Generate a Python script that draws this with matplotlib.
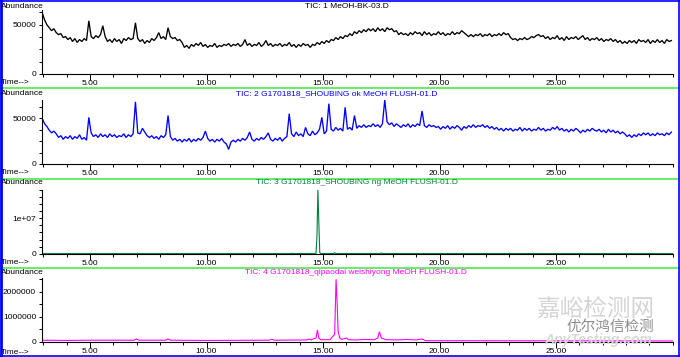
import numpy as np
import matplotlib
matplotlib.use("Agg")
import matplotlib.pyplot as plt
from matplotlib.ticker import MultipleLocator, FuncFormatter
from matplotlib.lines import Line2D

plt.rcParams['font.family'] = ['Liberation Sans', 'DejaVu Sans']

# ---------------- data ----------------
t_start = 2.95
t_step = 0.1

# TIC 1 (abundance, thousands)
tic1_k = [62, 55, 50, 47, 44, 46, 42, 40, 41, 37, 38, 35, 37, 33, 36, 32, 35, 33, 36, 34,
          54, 38, 36, 39, 37, 40, 49, 38, 33, 35, 32, 36, 33, 35, 31, 36, 34, 37, 35, 36,
          52, 36, 33, 35, 31, 34, 32, 36, 34, 37, 42, 36, 38, 35, 47, 38, 36, 37, 34, 35,
          32, 27, 29, 26, 30, 28, 31, 29, 32, 28, 30, 27, 29, 28, 31, 27, 29, 28, 30, 29,
          31, 28, 30, 29, 31, 28, 30, 35, 29, 31, 28, 30, 29, 32, 28, 30, 34, 29, 31, 28,
          30, 29, 31, 28, 30, 29, 32, 28, 30, 27, 30, 28, 31, 29, 30, 27, 30, 29, 32, 30,
          33, 31, 34, 32, 35, 34, 37, 35, 38, 36, 39, 38, 41, 39, 43, 41, 44, 42, 45, 43,
          46, 44, 46, 43, 47, 44, 46, 43, 47, 45, 46, 43, 44, 40, 42, 40, 41, 39, 42, 40,
          43, 41, 42, 39, 43, 40, 42, 39, 41, 40, 43, 40, 42, 39, 41, 40, 43, 40, 42, 41,
          44, 42, 40, 38, 40, 38, 40, 39, 41, 38, 40, 39, 41, 38, 40, 39, 41, 39, 42, 40,
          41, 37, 35, 36, 34, 36, 35, 37, 35, 36, 38, 37, 39, 40, 38, 39, 36, 38, 35, 37,
          36, 39, 35, 37, 34, 38, 35, 37, 36, 38, 35, 37, 39, 35, 37, 34, 36, 35, 37, 34,
          36, 33, 35, 34, 36, 33, 35, 32, 34, 31, 33, 31, 34, 32, 34, 31, 35, 33, 34, 32,
          35, 31, 34, 32, 35, 32, 34, 31, 35, 33, 34]

# TIC 2 (abundance, thousands)
tic2_k = [50, 44, 41, 37, 34, 36, 33, 29, 31, 27, 30, 28, 31, 27, 30, 28, 32, 27, 29, 26,
          51, 34, 30, 32, 29, 33, 30, 32, 29, 33, 30, 32, 29, 31, 30, 33, 29, 32, 30, 33,
          68, 34, 33, 39, 35, 31, 29, 31, 28, 30, 27, 31, 29, 32, 53, 30, 26, 28, 25, 27,
          24, 27, 25, 28, 24, 27, 25, 28, 26, 29, 36, 28, 25, 27, 24, 27, 25, 28, 24, 22,
          16, 24, 26, 24, 27, 25, 28, 26, 29, 35, 27, 25, 28, 26, 29, 27, 30, 34, 27, 25,
          28, 26, 29, 25, 28, 30, 55, 33, 30, 35, 31, 33, 30, 40, 33, 31, 36, 32, 34, 38,
          51, 33, 36, 66, 38, 36, 40, 37, 39, 36, 62, 38, 40, 37, 53, 39, 42, 40, 43, 40,
          42, 41, 44, 41, 43, 40, 44, 70, 46, 43, 45, 41, 44, 42, 40, 43, 41, 44, 40, 43,
          41, 44, 42, 58, 42, 40, 43, 41, 42, 40, 41, 38, 41, 39, 42, 38, 41, 39, 42, 40,
          37, 41, 39, 42, 40, 43, 40, 42, 41, 43, 40, 42, 39, 41, 38, 40, 37, 39, 36, 39,
          37, 39, 36, 38, 37, 40, 36, 39, 37, 39, 36, 38, 37, 40, 37, 39, 36, 38, 37, 40,
          38, 41, 37, 39, 36, 38, 35, 38, 36, 39, 37, 34, 37, 35, 38, 36, 39, 37, 36, 38,
          35, 37, 34, 38, 35, 37, 34, 36, 33, 35, 33, 30, 32, 29, 32, 30, 33, 31, 34, 32,
          34, 31, 33, 31, 34, 32, 33, 31, 34, 32, 35]

# TIC 3 (key points: time, abundance)
tic3_time = [2.95, 7.0, 7.05, 7.1, 13.6, 13.65, 13.7, 14.70, 14.74, 14.78, 14.82, 14.86, 14.9,
             15.45, 15.5, 15.55, 17.45, 17.5, 17.55, 30.0]
tic3_vals = [3e4, 3e4, 1.2e5, 3e4, 3e4, 1.5e5, 3e4, 5e4, 4.8e6, 1.8e7, 9.0e6, 3e5, 5e4,
             5e4, 3e5, 5e4, 5e4, 2e5, 5e4, 3e4]

# TIC 4 (key points: time, abundance)
tic4_time = [2.95, 4.0, 5.0, 6.9, 7.0, 7.1, 8.25, 8.35, 8.45, 10.0, 12.7, 12.8, 12.9,
             14.3, 14.4, 14.5, 14.6, 14.7, 14.76, 14.82, 14.9, 15.3, 15.5, 15.56, 15.6,
             15.65, 15.72, 15.8, 16.0, 16.1, 16.4, 16.8, 17.2, 17.35, 17.42, 17.5, 17.7,
             18.2, 18.6, 19.0, 19.25, 19.4, 30.0]
tic4_vals = [6e4, 5e4, 6e4, 6e4, 1.1e5, 6e4, 6e4, 1.1e5, 6e4, 5e4, 6e4, 1.0e5, 6e4,
             7e4, 1.1e5, 7e4, 1.2e5, 1.5e5, 4.7e5, 1.5e5, 8e4, 8e4, 3e5, 2.5e6, 1.7e6,
             4e5, 1.5e5, 9e4, 1.5e5, 8e4, 7e4, 9e4, 8e4, 1.5e5, 4e5, 1.5e5, 8e4,
             7e4, 9e4, 7e4, 1.1e5, 4e4, 3e4]

titles = ["TIC: 1 MeOH-BK-03.D",
          "TIC: 2 G1701818_SHOUBING ok MeOH FLUSH-01.D",
          "TIC: 3 G1701818_SHOUBING ng MeOH FLUSH-01.D",
          "TIC: 4 G1701818_qipaodai weishiyong MeOH FLUSH-01.D"]
colors = ["#000000", "#0000ff", "#008040", "#ff00ff"]
x_tick_labels = ["5.00", "10.00", "15.00", "20.00", "25.00"]

# ---------------- layout ----------------
W, H = 680, 357
fig = plt.figure(figsize=(W / 100, H / 100), dpi=100)
fig.patch.set_facecolor("white")

def fx(x):
    return x / W

def fy(y):
    return 1 - y / H

x_left, x_right = 42, 673
t_lo, t_hi = 2.94, 30.02

# (zero pixel y, top pixel y, ymax, y major, y minor, abundance y, time y, title center x)
panels = [
    (74.0, 10.0, 65000, 50000, 12500, 6, 82.5, 347),
    (164.0, 100.0, 70000, 50000, 12500, 93.5, 172.5, 337),
    (253.7, 190.0, 1.8e7, 1e7, 2e6, 182.5, 262.5, 357),
    (341.7, 278.0, 2.55e6, 1e6, 5e5, 272.5, 352, 356),
]
line_w = [0.95, 0.95, 0.8, 0.8]

n = len(tic1_k)
times12 = t_start + t_step * np.arange(n)
series = [
    (times12, np.array(tic1_k) * 1000.0),
    (times12, np.array(tic2_k) * 1000.0),
    (np.array(tic3_time), np.array(tic3_vals)),
    (np.array(tic4_time), np.array(tic4_vals)),
]

def yfmt(v, pos):
    if v == 0:
        return "0"
    if v >= 1e7:
        return "%.0e" % v
    return "%d" % int(round(v))

fs = 6
for i, (y0, ytop, ymax, ymaj, ymin, yab, ytime, tcx) in enumerate(panels):
    ax = fig.add_axes([fx(x_left), fy(y0), fx(x_right - x_left), (y0 - ytop) / H])
    ax.set_facecolor("none")
    tt, vv = series[i]
    ax.plot(tt, vv, color=colors[i], lw=line_w[i], solid_joinstyle="miter")
    ax.set_xlim(t_lo, t_hi)
    ax.set_ylim(0, ymax)
    for s in ["top", "right"]:
        ax.spines[s].set_visible(False)
    for s in ["left", "bottom"]:
        ax.spines[s].set_linewidth(0.8)
        ax.spines[s].set_color("black")
    ax.xaxis.set_minor_locator(MultipleLocator(1))
    ax.set_xticks([5, 10, 15, 20, 25])
    ax.set_xticklabels(x_tick_labels)
    ax.yaxis.set_major_locator(MultipleLocator(ymaj))
    ax.yaxis.set_minor_locator(MultipleLocator(ymin))
    ax.yaxis.set_major_formatter(FuncFormatter(yfmt))
    ax.tick_params(axis="x", which="major", length=4, width=0.7, pad=0.2, labelsize=fs)
    ax.tick_params(axis="x", which="minor", length=2.2, width=0.7)
    ax.tick_params(axis="y", which="major", length=2.2, width=0.7, pad=2, labelsize=fs)
    ax.tick_params(axis="y", which="minor", length=2.2, width=0.7)
    fig.text(fx(1), fy(yab), "Abundance", fontsize=fs, ha="left", va="center")
    fig.text(fx(1), fy(ytime), "Time-->", fontsize=fs, ha="left", va="center")
    fig.text(fx(tcx), fy(yab), titles[i], fontsize=fs, ha="center", va="center",
             color=colors[i])

# separators
for ys in [88.0, 178.5, 267.5]:
    fig.add_artist(Line2D([0, 1], [fy(ys), fy(ys)], color="#66ee66", lw=1.4))

# blue frame
fig.add_artist(Line2D([0.0015, 0.0015], [0, 1], color="#0000ff", lw=2.0))
fig.add_artist(Line2D([1 - 0.0008, 1 - 0.0008], [0, 1], color="#0000ff", lw=1.2))
fig.add_artist(Line2D([0, 1], [1 - 0.0015, 1 - 0.0015], color="#0000ff", lw=1.2))
fig.add_artist(Line2D([0, 1], [0.0015, 0.0015], color="#0000ff", lw=1.2))

# watermark
fig.text(fx(595), fy(310), "嘉峪检测网", fontsize=17, color="#d4d4d4",
         family=["Noto Sans CJK SC", "DejaVu Sans"], ha="center", va="center")
fig.text(fx(610), fy(327), "优尔鸿信检测", fontsize=10.5, color="#8a8a8a",
         family=["Noto Sans CJK SC", "DejaVu Sans"], ha="center", va="center")
fig.text(fx(598), fy(340), "AnyTesting.com", fontsize=10, color="#d8d8d8",
         style="italic", fontweight="bold", ha="center", va="center")

fig.savefig("out.png", dpi=100)
